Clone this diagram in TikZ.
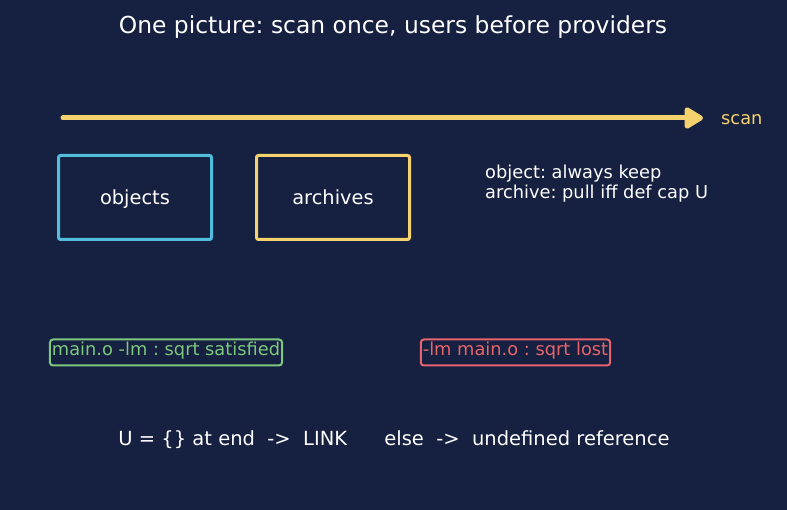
\documentclass[tikz,border=0pt]{standalone}
\usepackage{fontspec}
\setmainfont{DejaVu Sans}
\usepackage{tikz}
\usetikzlibrary{arrows.meta}
\usetikzlibrary{calc}

\definecolor{bg}{RGB}{22,32,64}
\definecolor{cyanline}{RGB}{80,190,220}
\definecolor{yelline}{RGB}{245,210,110}
\definecolor{greenline}{RGB}{125,200,125}
\definecolor{redline}{RGB}{232,100,108}

\frenchspacing
\begin{document}
\begin{tikzpicture}[x=1pt, y=-1pt,
        title_style/.style={text=white,font=\fontsize{23.4}{27}\selectfont},
        box_style/.style={draw, line width=3pt, rounded corners=2pt, minimum width=153pt, minimum height=84pt, text=white, text height=14pt, text depth=0.5pt, font=\fontsize{19.4}{23}\selectfont},
        note_style/.style={text=white, align=left, anchor=west, inner sep=0pt, font=\fontsize{17.8}{20}\selectfont},
        tag_style/.style={draw, line width=2pt, rounded corners=3pt, inner xsep=2pt, inner ysep=3pt, text height=13pt, text depth=7pt, font=\fontsize{17.8}{20}\selectfont},
        scan_style/.style={draw=yelline, line width=5pt, line cap=round, -{Triangle[length=15pt,width=17pt,round,scale=1.4]}}]

        \fill [bg] (0,0) rectangle (787,510);
        \useasboundingbox (0,0) rectangle (787,510);

        \node [title_style](title) at (393,27) {One picture: scan once, users before providers};

        \coordinate (scan_start) at (63,118);
        \coordinate (scan_end) at (703,118);
        \draw [scan_style] (scan_start) -- (scan_end);
        \node [note_style, text=yelline](scan) at (721,120) {scan};

        \node [box_style, draw=cyanline](objs) at (135,197.5) {objects};
        \node [box_style, draw=yelline](archs) at (333,197.5) {archives};
        \node [note_style](rules) at (485,184) {object: always keep\\archive: pull iff def cap U};

        \node [tag_style, draw=greenline, text=greenline](good) at (166,352.5) {main.o -lm : sqrt satisfied};
        \node [tag_style, draw=redline, text=redline](bad) at (515.5,352.5) {-lm main.o : sqrt lost};

        \node [text=white, font=\fontsize{19.5}{23}\selectfont](verdict) at (394,440) {U = \{\} at end~~->~~LINK~~~~~~else~~->~~undefined reference};
\end{tikzpicture}
\end{document}
